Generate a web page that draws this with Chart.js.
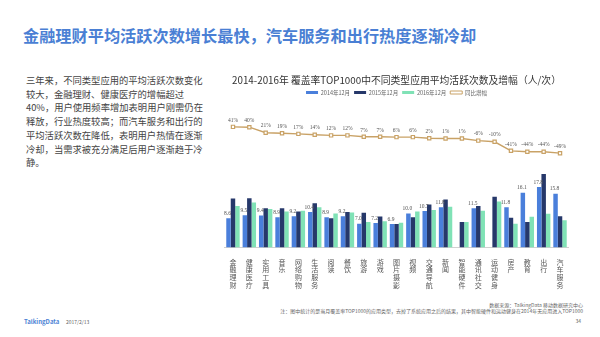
<!DOCTYPE html>
<html><head><meta charset="utf-8">
<script src="https://cdn.jsdelivr.net/npm/chart.js@4"></script>
<style>
html,body{margin:0;padding:0;background:#fff;}
body{width:600px;height:337px;position:relative;overflow:hidden;font-family:"Noto Sans CJK SC","Noto Sans",sans-serif;}
#title{position:absolute;left:23px;top:25px;font-size:16.2px;font-weight:bold;color:#4a7fd4;white-space:nowrap;line-height:20px;}
#desc{position:absolute;left:26px;top:74px;font-size:9.3px;line-height:13.7px;color:#444;white-space:nowrap;}
#wrap{position:absolute;left:210px;top:60px;width:380px;height:240px;}
.ft{position:absolute;font-size:5px;color:#666;white-space:nowrap;line-height:6px;}
</style></head><body>
<div id="title">金融理财平均活跃次数增长最快，汽车服务和出行热度逐渐冷却</div>
<div id="desc">三年来，不同类型应用的平均活跃次数变化<br>较大，金融理财、健康医疗的增幅超过<br>40%，用户使用频率增加表明用户刚需仍在<br>释放，行业热度较高；而汽车服务和出行的<br>平均活跃次数在降低，表明用户热情在逐渐<br>冷却，当需求被充分满足后用户逐渐趋于冷<br>静。</div>
<div id="wrap"><canvas id="c"></canvas></div>
<div class="ft" style="right:17px;top:302px;">数据来源：TalkingData 移动数据研究中心</div>
<div class="ft" style="right:17px;top:308px;">注：图中统计的是当月覆盖率TOP1000的应用类型，去掉了系统应用之后的结果，其中智能硬件和运动健身在2014年无应用进入TOP1000</div>
<div class="ft" style="right:19px;top:318px;">34</div>
<div class="ft" style="left:24px;top:319px;font-size:6px;color:#4a7fd4;font-weight:bold;">TalkingData</div>
<div class="ft" style="left:66px;top:319px;">2017/2/13</div>
<script>
const categories = ['金融理财','健康医疗','实用工具','音乐','网络购物','生活服务','阅读','餐饮','旅游','游戏','图片摄影','视频','交通导航','新闻','智能硬件','通讯社交','运动健身','房产','教育','出行','汽车服务'];
const seriesNames = ['2014年12月','2015年12月','2016年12月','同比增幅'];
const v2014 = [8.6, 9.5, 9.4, 8.9, 9.2, 10.4, 8.9, 9.2, 7.0, 7.2, 6.9, 10.0, 10.7, 11.8, null, 11.5, null, 11.8, 16.1, 17.8, 15.8];
const v2015 = [14.4, 14.5, 11.5, 11.5, 10.6, 13.0, 8.6, 10.4, 10.2, 9.1, 6.9, 8.9, 12.6, 14.1, 7.5, 12.2, 14.9, 8.7, 7.5, 21.6, 9.2];
const v2016 = [12.2, 13.2, 11.3, 10.6, 10.8, 11.8, 10.0, 10.3, 7.5, 7.7, 7.3, 10.6, 11.0, 12.0, 7.5, 10.8, 13.5, 7.0, 9.0, 9.9, 8.0];
const growth = [41, 40, 21, 19, 17, 14, 12, 12, 7, 7, 6, 6, 2, 1, 1, -6, -10, -41, -44, -44, -49];

const C14 = '#4a7fdb', C15 = '#26386a', C16 = '#80e2b6', CL = '#c9a266';

const labelPlugin = {
  id: 'valueLabels',
  afterDatasetsDraw(chart) {
    const ctx = chart.ctx;
    ctx.save();
    ctx.textAlign = 'center';
    ctx.textBaseline = 'bottom';
    ctx.font = '5.5px "Liberation Serif", serif';
    ctx.fillStyle = '#555';
    const m0 = chart.getDatasetMeta(0);
    m0.data.forEach((el, i) => {
      if (v2014[i] == null) return;
      ctx.fillText(v2014[i].toFixed(1), el.x - 1, el.y - 2);
    });
    const m3 = chart.getDatasetMeta(3);
    m3.data.forEach((el, i) => {
      ctx.fillText(growth[i] + '%', el.x, el.y - 4);
    });
    ctx.restore();
  }
};

new Chart(document.getElementById('c'), {
  data: {
    labels: categories.map(s => s.split('')),
    datasets: [
      {type:'bar', label: seriesNames[0], data: v2014, backgroundColor: C14, yAxisID:'y', categoryPercentage:0.82, barPercentage:1.0},
      {type:'bar', label: seriesNames[1], data: v2015, backgroundColor: C15, yAxisID:'y', categoryPercentage:0.82, barPercentage:1.0},
      {type:'bar', label: seriesNames[2], data: v2016, backgroundColor: C16, yAxisID:'y', categoryPercentage:0.82, barPercentage:1.0},
      {type:'line', label: seriesNames[3], data: growth, borderColor: CL, backgroundColor:'#fff', borderWidth:1.4,
       pointStyle:'rect', pointRadius:2.3, pointBorderWidth:1.2, pointBackgroundColor:'#fff', pointBorderColor: CL, yAxisID:'y1', tension:0}
    ]
  },
  options: {
    responsive:true, maintainAspectRatio:false, animation:false, devicePixelRatio:1,
    layout:{padding:{left:14.8, right:21.8, top:0, bottom:8.3}},
    plugins:{
      tooltip:{enabled:false},
      title:{display:true, text:'2014-2016年 覆盖率TOP1000中不同类型应用平均活跃次数及增幅（人/次）',
        color:'#333', font:{family:'"Noto Sans CJK SC"', size:9.8, weight:'normal'}, padding:{top:14, bottom:0}},
      legend:{display:true, position:'top',
        labels:{font:{family:'"Noto Sans CJK SC"', size:5.5}, color:'#666', boxWidth:12, boxHeight:3, padding:4,
          generateLabels(chart){
            const items = Chart.defaults.plugins.legend.labels.generateLabels(chart);
            items.forEach((it,i)=>{ if(i===3){ it.fillStyle='#fff'; it.strokeStyle=CL; it.lineWidth=1; } else { it.lineWidth=0; } });
            return items;
          }}}
    },
    scales:{
      x:{grid:{display:false}, border:{display:true, color:'#d0d0d0'},
         ticks:{autoSkip:false, maxRotation:0, minRotation:0, padding:3, color:'#555',
                font:{family:'"Noto Sans CJK SC"', size:7, lineHeight:1.08}}},
      y:{display:false, min:0, max:41.8},
      y1:{display:false, min:-372, max:115.1}
    }
  },
  plugins:[labelPlugin]
});
</script>
</body></html>
